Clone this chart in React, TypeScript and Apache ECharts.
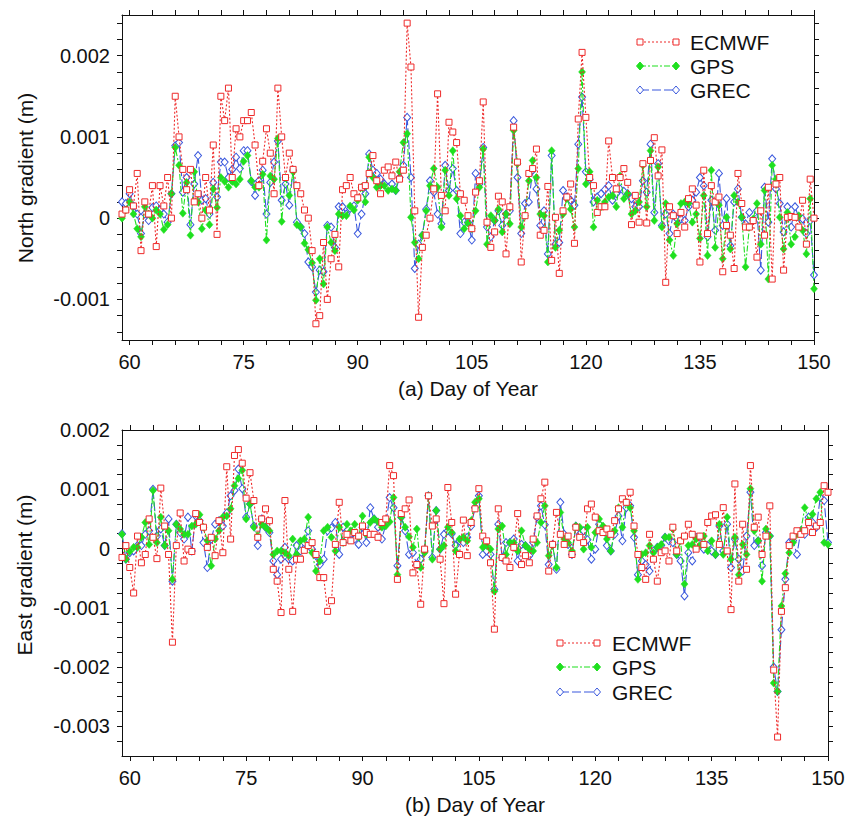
import React, { useEffect, useRef } from "react";
import * as echarts from "echarts";

// Sampling: values every half day starting at day 59
const DAY_START = 59;
const DAY_STEP = 0.5;
const UNIT = 1e-4; // values below are in units of 0.0001 m

const SERIES_NAMES = ["ECMWF", "GPS", "GREC"];

// ---------- North gradient ----------
const NORTH_ECMWF = [
  0.5, 1, 3.5, 1.5, 5.5, -4, 2, 0.5, 4, -3.5,
  4, 1.5, 5, 0, 15, 10, 6, 3.5, 6, 2,
  3, 0, 5, 1, 9, -2, 15, 12, 16, 5,
  11, 10, 12, 12, 13, 9, 4, 7, 11, 8,
  3, 16, 10, 5, 8, 6, 4, 3, 1, 0,
  -4, -13, -12, -3, -10, -5, -2, -6, 3.5, 4,
  5, 3, 2.5, 3.8, 4, 5.5, 7.7, 4.6, 3, 5.9,
  6.3, 5.2, 6.9, 4.8, 5.9, 24, 18.6, 0.9, -12.2, -3.6,
  -2.1, 0, 3.6, 15.3, 2.8, 0.9, 11.8, 10.6, 9.3, 3,
  2.2, 0.3, -1.3, 3.2, 4.6, 14.3, -0.5, -3.6, -1.7, 2.7,
  2, -4.4, 1.4, 11.2, 6.9, -5.4, 0.3, 5.5, 6.1, 8.5,
  -2.1, -1.5, 3.9, -5.2, 0.1, -6.8, 0.9, 2.6, 4.2, -3.1,
  12.2, 20.4, 12.4, 5, 4, 0.7, 1.4, 1.4, 9.5, 5,
  3.6, 5, 6.1, 4.4, -0.8, 2.8, -0.5, 6.7, -0.6, 7.1,
  9.9, 5.2, 8.4, -7.9, 1.4, 0.3, -1.9, 0.7, -1.1, 2.4,
  3.6, 1.6, -5.4, 5.9, -1.9, 4, 2, 2.6, -6.6, -0.9,
  -2.1, -6.2, 5.5, 1.8, -1.1, -1.1, -0.3, -4.8, 0.9, -2.1,
  3.8, -7.5, 4.2, 5, -6.4, 0.1, 0.2, 0.1, -1.1, 2.2,
  -3.2, 4.8, 0,
];

const NORTH_GPS = [
  0, 1, 2, 0.5, -1.3, -2.3, 1.4, 0.5, 0, 1,
  0.5, -1.4, -0.8, 3, 8.7, 6.5, 0.6, 4.4, -2.1, 5.7,
  2, -1.3, 1, -0.8, 3.6, 1.3, 5, 4.5, 3.8, 4.5,
  4.2, 4.8, 7, 7.7, 4.6, 3.8, 3.8, 5.4, -2.7, 5.2,
  4.8, 9.8, -0.4, 5, 2.8, 5.7, -0.8, -1.1, -3.1, -3.9,
  -5.5, -10.1, -5, -8.1, -1.1, -3, -4, 0.5, 0.3, 0.3,
  1.5, 1, 2.2, 3.8, 2, 7.5, 5, 3.8, 4, 4,
  3.4, 3.6, 3.4, 5.7, 9.3, 10.4, 0.1, -3, -5, -2.1,
  0.9, 4, 6.1, 3.8, -1.1, 5.9, 2.8, 8.3, 2.4, 0.3,
  -1.3, -0.6, -1.3, 0.9, 3.8, 8.5, -3.2, 0.3, -0.3, 1.1,
  -1.7, 0.5, -0.7, 10.8, 6.7, -1.1, 0.3, 4.6, 7.1, 5,
  0.5, 0.3, -5.4, 8.3, -3.6, -1.5, 0.5, 2.4, 1.1, -1.1,
  6.1, 18, 4.2, 5.7, -1.1, 2.2, 1.4, 2, 2.6, 2.8,
  1.4, 5.2, 2.4, 3, 0.5, 0.9, 2, 6.5, 1.4, 8.3,
  -0.3, 6.3, -1.1, 1.8, -2.7, -4.6, -0.7, 1.8, 2, 1.8,
  -0.5, 0.5, -2.5, 2.8, -4.6, 5.9, -3.6, 1.6, -5, 0.1,
  -3.8, 2.8, 2, 0.1, -6, -1.1, -0.1, 1.8, -3.2, 3.4,
  -7.5, 6.5, 4.8, 0.1, -3.8, 0.7, -3.2, -2.3, 0.3, -1.5,
  -4.4, 2.4, -8.7,
];

const NORTH_GREC = [
  2, 1.8, 3, 1.5, 0.5, -1.9, 0.5, -0.3, 1.3, 1.5,
  1, 0.5, -0.5, 3, 8.9, 9.3, 3.2, 5, -0.8, 4.2,
  7.7, 2.2, 2.4, 0.5, 4.4, 2.6, 6.9, 6.9, 5, 6,
  7.5, 6.1, 8.3, 8.3, 4.5, 2.8, 4.6, 5.9, 0.5, 4.4,
  6.9, 9.5, 2.2, 4.2, 1.6, 5.9, -0.5, -1.1, -1.9, -5.4,
  -6, -9.1, -6.4, -6.6, -0.9, -1.1, -3.6, 1.4, 1.4, 0.5,
  1.2, 1.5, -1.9, 0.5, 3, 7.9, 5.9, 5.5, 4.8, 4.2,
  3.8, 4.2, 3.4, 5, 6.5, 12.4, 5, -6.2, -3.2, -2.1,
  1.1, 4.6, 3.2, 0.5, -0.7, 6.5, 3.4, 6.1, 3.4, -1.9,
  -0.5, -0.5, -2.7, 5.5, 4.2, 8.7, -1.1, -2.3, -0.3, 0.9,
  -0.9, 0.5, 0.9, 12, 5, -1.9, 1.8, 2, 5.9, 3.6,
  -0.9, 0.9, -4.4, 7.7, -3.2, -3, 3.4, 2.6, 2.2, 1.6,
  9.1, 14.9, 5.7, 4.8, 2, 2.6, 3, 3.5, 4, 2.2,
  3, 3.6, 3.3, 3, 2.4, 1.4, 1.4, 4.6, 3.2, 9.1,
  0.7, 6.7, -0.9, 0.5, -1.9, 0.5, -0.1, -0.1, -0.3, 1.4,
  2.2, 3.2, 5, 4, -2.3, 2.2, -1.5, 5.5, -0.9, 2.4,
  -3.4, 2, 3.6, 0.1, -0.7, 0.7, -0.3, 0.9, -6.4, 3.8,
  -0.5, 7.3, 3.6, 1.8, -1.7, 1.4, -1.1, 1.4, 0.1, -0.1,
  -1.9, -0.3, -7,
];

// ---------- East gradient ----------
const EAST_ECMWF = [
  -1.5, 0.5, -3.2, -7.5, 2.1, -2.4, -1, 5, 1.9, -1.7,
  10.2, 3.8, -1, -15.8, 0.5, 6, -2.1, -0.1, -0.5, 5.9,
  4.4, 3.6, 0.2, 1.9, -1.2, 4.7, -0.7, 13.8, 1.6, 15.7,
  16.7, 14.4, 8.5, 12.8, 8.1, 1.9, 5, 6.7, 4.7, -3.5,
  -5.5, -10.8, 8.1, -3.5, -10.6, -1.8, -1.8, -0.3, 0.5, 1,
  -1, -4.9, -4.9, -10.6, -8.8, 0.7, 7.8, 1, 2.4, 1.3,
  2.7, 2.1, 3.8, 2.7, 2.4, 2.4, 1.9, 4.4, 5, 14,
  12.3, -5.2, 5.9, 6.7, 8.2, -4.1, -2.7, -9.4, -0.1, 8.9,
  3.8, 5, -1.8, -9.3, 10.3, 4.4, -7.7, -1, 4.8, -1.2,
  4.4, 6.7, 10.1, 2.1, 1.3, -2.4, -13.6, 6.7, -1.5, -2.1,
  -3.2, 0.2, 5.9, -2.7, -1.2, -2.4, 1.6, 5.5, 8.4, 11.2,
  -3.8, 0.7, 6.1, 2.4, 0.7, 2.1, -1, 3.6, 1.9, 1,
  6.7, 7.5, 5.3, 3, 2.7, 3.3, 2.4, 4.7, 6.7, 8.4,
  7.8, 9.5, 3.8, -1, -3.2, -5.2, 2.4, -1.8, -5.5, -0.7,
  -0.4, -2.1, 3.6, -0.4, 1.3, 2.1, 4.1, 2.4, -0.1, 2.1,
  0.7, 4.4, 5.5, 5.7, 0.7, 6.9, -0.4, -10.3, 10.9, -5.5,
  4.1, -3.5, 14, 3.6, 5.3, -1, 2.1, 7.2, -20.5, -31.8,
  -10.6, -6.6, 0.5, 2.1, 3, 2.4, 3, 4.4, 2.7, 3.8,
  4.4, 10.6, 9.5,
];

const EAST_GPS = [
  2.4, -1.8, -0.5, 0.2, 0.2, 1.9, 4.4, 0.7, 9.8, 1,
  5.3, 0.5, 3, -5.2, 4.1, 3.3, 2.4, 2.4, 3.8, 4.1,
  5.7, 3.6, 1.3, -2.9, 1.6, 3, 5.3, 5.5, 6.7, 10.6,
  11.8, 13.2, 5, 7.5, 3.6, 2.1, 4.1, 3.6, 3, -1,
  -0.4, -0.4, -0.7, -1.2, 1.6, -1, 1.3, 1.6, 5.3, -0.7,
  -3.8, -2.1, 3, 3.6, 1.9, -0.4, 3.6, 1, 4.1, 3,
  4.1, 1.9, 5.5, 2.4, 4.4, 5, 4.5, 3.6, 3.8, 4.5,
  8.6, -4.4, 5.3, 3.6, 2, 0.2, 3.3, -3.2, -0.7, 8.9,
  -1.8, 6.4, -0.1, 0.5, 3.6, 2.7, -0.4, 1.6, 1.9, 1.3,
  4.7, 7.8, 8.4, 0.2, 0.5, -0.1, -7.2, 3.3, 3.8, -1,
  1, 1, -0.4, 3, 0.5, -0.1, -0.4, 1, 4.4, 7.2,
  -1.2, 0.5, -3.2, 6.1, 1.6, 1, -0.4, 3.8, 3.6, -0.1,
  3.6, 0.2, 2.7, 5, 3.8, 1.6, -0.4, 3, 6.9, 3.6,
  7.8, 6.9, 3, -5.2, -1, -0.7, 0.5, -0.7, 0.2, 0.7,
  1.9, 1.9, 3.3, -1, 1.3, -6, 0.5, 0.7, 1.6, 0.5,
  2.1, -0.4, 1.3, -1, 4.1, -1, 5.3, -1.8, 1.9, -4.4,
  0.7, -1, 10.1, 3, 1.3, -5.5, 3.3, 2.1, -22.7, -24.1,
  -9.7, -4.2, -0.7, 1, 2.4, 3, 6.9, 4.7, 5.8, 8.4,
  9.5, 1, 0.7,
];

const EAST_GREC = [
  2.5, -1.8, -0.7, -0.4, 0.5, 0.5, 2.4, 3, 10, 2.1,
  3.3, 0.5, 5, -5.5, 4.1, 2.7, 1.6, 5.3, -0.4, 5.5,
  4.7, 1, -3.2, 1.6, 4.1, 4.7, 3.8, 6, 8.9, 9.8,
  13.4, 10.1, 5.3, 7.5, 3.8, 0.5, 5, 3.6, 2.7, -2.1,
  -4.4, -1.8, 0.2, -1.8, -2.1, 0.5, -0.4, 1, 3, -0.1,
  -1.2, -2.7, -1.8, 3, 3.5, 4.4, -1, 3.6, 1.6, 2.5,
  1.6, 0.7, 3.6, 1, 6.9, 5, 3.6, 1.6, 4.1, 8.6,
  6.9, -2.9, 5.3, 3, -1, -0.7, -2.7, -1.8, -0.4, 8.9,
  -1.5, 6.4, -0.1, 2.4, 3, 2.5, 0.5, 1.3, 1, 1.9,
  3.8, 6.9, 8.9, -1, -0.4, -1, -6.9, 4.1, -1.5, 1,
  1, 1.6, -2.1, 0.7, 0.5, -1.2, 1, 5.3, 7.2, 4,
  -2.7, 0.7, -3.5, 7.8, 2.4, 0.7, -1, 3.8, 2.4, 3,
  1.5, -1.8, -0.1, 4.1, 3.6, 0.5, -0.4, 2.4, 5.5, 1.3,
  6.9, 7.2, 1.9, -4.4, -2.1, -2.7, -3.8, -0.4, 0.2, 0.5,
  1.9, 1.3, 1, -1, -2.1, -8, -0.7, -2.1, 1.9, 1.9,
  -0.1, 0.5, -0.4, -1, 3.8, -0.4, 4.1, -3.2, 1.6, -1.8,
  -3.8, 2.1, 9.5, 0.5, 1.3, -2.9, 2.7, 2.1, -20, -24.1,
  -13.7, -5.2, 1, 1.3, -1, 3, 2.4, 5.3, 4.4, 3.6,
  8.6, 8.1, 1,
];

// ---------- Axes ----------
const X_MIN = 59;
const X_MAX = 150;
const X_LABELS = [60, 75, 90, 105, 120, 135, 150];
const X_TICKS = [60, 63, 66, 69, 72, 75, 78, 81, 84, 87, 90, 93, 96, 99, 102, 105, 108, 111, 114, 117, 120, 123, 126, 129, 132, 135, 138, 141, 144, 147, 150];
const N_MIN = -0.0015;
const N_MAX = 0.0025;
const N_LABELS = [-0.001, 0, 0.001, 0.002];
const N_TICKS = [-0.0014, -0.0012, -0.001, -0.0008, -0.0006, -0.0004, -0.0002, 0, 0.0002, 0.0004, 0.0006, 0.0008, 0.001, 0.0012, 0.0014, 0.0016, 0.0018, 0.002, 0.0022, 0.0024];
const E_MIN = -0.0035;
const E_MAX = 0.002;
const E_LABELS = [-0.003, -0.002, -0.001, 0, 0.001, 0.002];
const E_TICKS = [-0.00325, -0.003, -0.00275, -0.0025, -0.00225, -0.002, -0.00175, -0.0015, -0.00125, -0.001, -0.00075, -0.0005, -0.00025, 0, 0.00025, 0.0005, 0.00075, 0.001, 0.00125, 0.0015, 0.00175];

const RED = "#ee2a2a";
const GREEN = "#1fe01f";
const BLUE = "#3a58dd";
const INK = "#111111";
const FONT = '"Liberation Sans", Arial, sans-serif';

const toPairs = (arr: number[]) => arr.map((v, i) => [DAY_START + i * DAY_STEP, v * UNIT]);

const fmtY = (v: number) => {
  const r = Math.round(v * 1e6) / 1e6;
  return r === 0 ? "0" : String(r);
};

function makeSeries(kind: number, data: number[], axisIdx: number) {
  const base: any = {
    type: "line",
    name: SERIES_NAMES[kind],
    xAxisIndex: axisIdx,
    yAxisIndex: axisIdx,
    data: toPairs(data),
    silent: true,
    showAllSymbol: true,
    emphasis: { disabled: true },
  };
  if (kind === 0) {
    return {
      ...base,
      z: 4,
      symbol: "rect",
      symbolSize: 6,
      itemStyle: { color: "#ffffff", borderColor: RED, borderWidth: 1 },
      lineStyle: { color: RED, width: 1.1, type: [2, 2] },
    };
  }
  if (kind === 1) {
    return {
      ...base,
      z: 3,
      symbol: "diamond",
      symbolSize: [7, 8],
      itemStyle: { color: GREEN, borderColor: GREEN, borderWidth: 0.5 },
      lineStyle: { color: GREEN, width: 1.1, type: [6, 2, 2, 2] },
    };
  }
  return {
    ...base,
    z: 2,
    symbol: "diamond",
    symbolSize: [7, 8],
    itemStyle: { color: "#ffffff", borderColor: BLUE, borderWidth: 1 },
    lineStyle: { color: BLUE, width: 1.1, type: [9, 3] },
  };
}

const axisLineStyle = { show: true, onZero: false, lineStyle: { color: INK, width: 1 } };

function xAxes(grid: number, name: string) {
  return [
    {
      type: "value",
      gridIndex: grid,
      position: "bottom",
      min: X_MIN,
      max: X_MAX,
      axisLine: axisLineStyle,
      axisTick: { show: true, inside: false, length: 5, customValues: X_TICKS, lineStyle: { color: INK } },
      axisLabel: { customValues: X_LABELS, fontSize: 20, color: INK, margin: 12, fontFamily: FONT },
      splitLine: { show: false },
      name,
      nameLocation: "middle",
      nameGap: 38,
      nameTextStyle: { fontSize: 21, color: INK, fontFamily: FONT },
    },
    {
      type: "value",
      gridIndex: grid,
      position: "top",
      min: X_MIN,
      max: X_MAX,
      axisLine: axisLineStyle,
      axisTick: { show: true, inside: false, length: 5, customValues: X_TICKS, lineStyle: { color: INK } },
      axisLabel: { show: false },
      splitLine: { show: false },
    },
  ];
}

function yAxes(grid: number, min: number, max: number, labels: number[], ticks: number[]) {
  return [
    {
      type: "value",
      gridIndex: grid,
      position: "left",
      min,
      max,
      axisLine: axisLineStyle,
      axisTick: { show: true, inside: false, length: 5, customValues: ticks, lineStyle: { color: INK } },
      axisLabel: { customValues: labels, fontSize: 20, color: INK, margin: 12, fontFamily: FONT, formatter: fmtY },
      splitLine: { show: false },
    },
    {
      type: "value",
      gridIndex: grid,
      position: "right",
      min,
      max,
      axisLine: axisLineStyle,
      axisTick: { show: true, inside: false, length: 5, customValues: ticks, lineStyle: { color: INK } },
      axisLabel: { show: false },
      splitLine: { show: false },
    },
  ];
}

function legendGraphics(x1: number, x2: number, xt: number, ys: number[]) {
  const els: any[] = [];
  const diamond = (cx: number, cy: number, fill: string, stroke: string) => ({
    type: "polygon",
    z: 100,
    shape: { points: [[cx, cy - 4], [cx + 3.5, cy], [cx, cy + 4], [cx - 3.5, cy]] },
    style: { fill, stroke, lineWidth: 1 },
  });
  const square = (cx: number, cy: number) => ({
    type: "rect",
    z: 100,
    shape: { x: cx - 3, y: cy - 3, width: 6, height: 6 },
    style: { fill: "#ffffff", stroke: RED, lineWidth: 1 },
  });
  const styles = [
    { color: RED, dash: [2, 2] },
    { color: GREEN, dash: [6, 2, 2, 2] },
    { color: BLUE, dash: [9, 3] },
  ];
  ys.forEach((y, k) => {
    els.push({
      type: "line",
      z: 99,
      shape: { x1, y1: y, x2, y2: y },
      style: { stroke: styles[k].color, lineWidth: 1.1, lineDash: styles[k].dash },
    });
    [x1, x2].forEach((cx) => {
      if (k === 0) els.push(square(cx, y));
      else if (k === 1) els.push(diamond(cx, y, GREEN, GREEN));
      else els.push(diamond(cx, y, "#ffffff", BLUE));
    });
    els.push({
      type: "text",
      z: 100,
      x: xt,
      y,
      style: { text: SERIES_NAMES[k], font: `21px ${FONT}`, fill: INK, align: "left", verticalAlign: "middle" },
    });
  });
  return els;
}

export default function App() {
  const ref = useRef<HTMLDivElement>(null);

  useEffect(() => {
    if (!ref.current) return;
    const chart = echarts.init(ref.current, undefined, { renderer: "svg" });
    const option: any = {
      animation: false,
      backgroundColor: "#ffffff",
      textStyle: { fontFamily: FONT },
      grid: [
        { left: 122, top: 15, width: 692, height: 325 },
        { left: 122, top: 430, width: 706, height: 326 },
      ],
      xAxis: [...xAxes(0, "(a) Day of Year"), ...xAxes(1, "(b) Day of Year")],
      yAxis: [
        ...yAxes(0, N_MIN, N_MAX, N_LABELS, N_TICKS),
        ...yAxes(1, E_MIN, E_MAX, E_LABELS, E_TICKS),
      ],
      series: [
        makeSeries(2, NORTH_GREC, 0),
        makeSeries(1, NORTH_GPS, 0),
        makeSeries(0, NORTH_ECMWF, 0),
        makeSeries(2, EAST_GREC, 2),
        makeSeries(1, EAST_GPS, 2),
        makeSeries(0, EAST_ECMWF, 2),
      ],
      graphic: [
        {
          type: "text",
          x: 25,
          y: 178,
          rotation: Math.PI / 2,
          style: { text: "North gradient (m)", font: `21px ${FONT}`, fill: INK, align: "center", verticalAlign: "middle" },
        },
        {
          type: "text",
          x: 24,
          y: 575,
          rotation: Math.PI / 2,
          style: { text: "East gradient (m)", font: `21px ${FONT}`, fill: INK, align: "center", verticalAlign: "middle" },
        },
        ...legendGraphics(640, 676, 690, [42, 66, 90]),
        ...legendGraphics(560, 597, 612, [643, 667, 692]),
      ],
    };
    chart.setOption(option);
    return () => chart.dispose();
  }, []);

  return (
    <div
      ref={ref}
      style={{ position: "absolute", left: 0, top: 0, width: 850, height: 822, background: "#fff" }}
    />
  );
}
